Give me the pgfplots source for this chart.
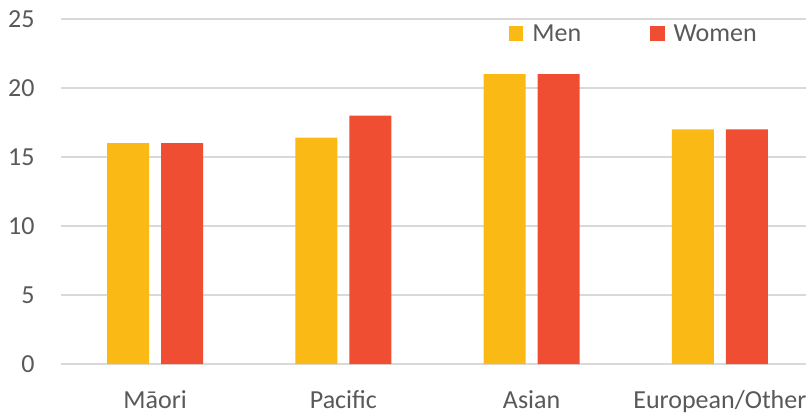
\documentclass[border=0pt]{standalone}
\usepackage{fontspec}
\setmainfont{Carlito}
\usepackage{pgfplots}
\pgfplotsset{compat=1.18}
\definecolor{menc}{HTML}{FBB916}
\definecolor{womenc}{HTML}{F04E33}
\definecolor{gridc}{HTML}{D9D9D9}
\definecolor{textc}{HTML}{595959}
\begin{document}
\fontsize{13}{15}\selectfont
\begin{tikzpicture}
\useasboundingbox (0,0) rectangle (403pt,206pt);
\begin{axis}[
    at={(30.5pt,24pt)}, anchor=south west,
    scale only axis, width=376.5pt, height=172.5pt,
    xmin=-0.5, xmax=3.5, ymin=0, ymax=25,
    ytick={0,5,...,25},
    xtick={0,1,2,3},
    xticklabels={Māori,Pacific,Asian,European/Other},
    /pgf/number format/assume math mode=true,
    ybar=6pt, bar width=21pt,
    axis line style={draw=none},
    major tick length=0pt,
    ymajorgrids, grid style={gridc, line width=0.6pt},
    tick label style={text=textc, font=\fontsize{13}{15}\selectfont},
    xticklabel style={inner sep=0pt, yshift=-13pt},
    yticklabel style={inner sep=0pt, xshift=-13pt},
    legend columns=2,
    legend style={at={(rel axis cs:0.595,0.982)}, anchor=north west,
        draw=none, fill=none, inner sep=0pt, outer sep=0pt,
        text=textc, font=\fontsize{13}{15}\selectfont,
        nodes={inner sep=0pt},
        /tikz/every odd column/.append style={column sep=4.5pt},
        /tikz/every even column/.append style={column sep=34.5pt}},
]
\addplot[fill=menc, draw=none,
    legend image code/.code={\fill[menc] (0pt,-2.65pt) rectangle (7.2pt,4.55pt);}]
    coordinates {(0,16) (1,16.4) (2,21) (3,17)};
\addplot[fill=womenc, draw=none,
    legend image code/.code={\fill[womenc] (0pt,-2.65pt) rectangle (7.2pt,4.55pt);}]
    coordinates {(0,16) (1,18) (2,21) (3,17)};
\legend{Men, Women}
\end{axis}
\end{tikzpicture}
\end{document}
